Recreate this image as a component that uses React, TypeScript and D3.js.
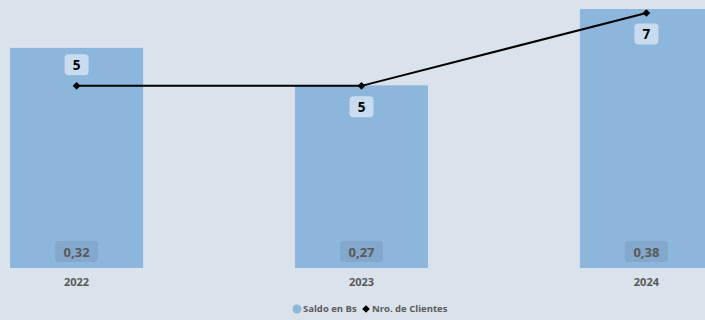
import React from "react";
import * as d3 from "d3";

const categories = ["2022", "2023", "2024"];
const saldo = [0.323, 0.268, 0.38];
const clientes = [5, 5, 7];
const legendLabels = ["Saldo en Bs", "Nro. de Clientes"];

const W = 705;
const H = 320;
const FONT = "'Open Sans', 'Noto Sans', sans-serif";

export default function App() {
  const x = d3.scaleBand<string>().domain(categories).range([-66, 789]).paddingInner(0.533).paddingOuter(0.267);
  const yBar = d3.scaleLinear().domain([0, 0.38]).range([268, 9]);
  const yLine = d3.scaleLinear().domain([0, 7]).range([268, 13]);
  const bw = x.bandwidth();
  const cx = (c: string) => (x(c) as number) + bw / 2;
  const line = d3.line<number>().x((_, i) => cx(categories[i])).y((d) => yLine(d));
  const diamond = d3.symbol().type(d3.symbolSquare).size(30)();
  const fmt = (v: number) => d3.format(".2f")(v).replace(".", ",");

  return (
    <svg width={W} height={H} style={{ position: "absolute", left: 0, top: 0, background: "#dae3ec" }} fontFamily={FONT}>
      <rect x={0} y={0} width={W} height={H} fill="#dae3ec" />
      {categories.map((c, i) => (
        <rect key={c} x={x(c)} y={yBar(saldo[i])} width={bw} height={yBar(0) - yBar(saldo[i])} fill="#8db6dd" />
      ))}
      {categories.map((c, i) => (
        <g key={"bl" + c} transform={`translate(${cx(c)},${yBar(0) - 16})`}>
          <rect x={-21.5} y={-11} width={43} height={21} rx={4} fill="#7c9cbd" fillOpacity={0.55} />
          <text textAnchor="middle" dy="0.35em" fontSize={13} fontWeight="bold" fill="#595959">{fmt(saldo[i])}</text>
        </g>
      ))}
      <path d={line(clientes) || ""} fill="none" stroke="#000" strokeWidth={2} />
      {clientes.map((v, i) => (
        <path key={"m" + i} d={diamond || ""} transform={`translate(${cx(categories[i])},${yLine(v)}) rotate(45)`} fill="#000" />
      ))}
      {clientes.map((v, i) => {
        const above = i === 0;
        const ly = yLine(v) + (above ? -21 : 21);
        return (
          <g key={"ll" + i} transform={`translate(${cx(categories[i])},${ly})`}>
            <rect x={-12} y={-10.5} width={24} height={21} rx={4} fill="#d4e2f1" fillOpacity={0.85} />
            <text textAnchor="middle" dy="0.35em" fontSize={13.5} fontWeight="bold" fill="#000">{v}</text>
          </g>
        );
      })}
      {categories.map((c) => (
        <text key={"xl" + c} x={cx(c)} y={282} textAnchor="middle" dy="0.35em" fontSize={11} fontWeight="bold" fill="#595959">{c}</text>
      ))}
      <g transform="translate(0,309)">
        <circle cx={297} cy={0} r={4.5} fill="#8db6dd" />
        <text x={303} y={0} dy="0.35em" fontSize={9.5} fontWeight="bold" fill="#595959">{legendLabels[0]}</text>
        <path d={diamond || ""} transform="translate(366,0) rotate(45)" fill="#000" />
        <text x={372} y={0} dy="0.35em" fontSize={9.5} fontWeight="bold" fill="#595959">{legendLabels[1]}</text>
      </g>
    </svg>
  );
}
